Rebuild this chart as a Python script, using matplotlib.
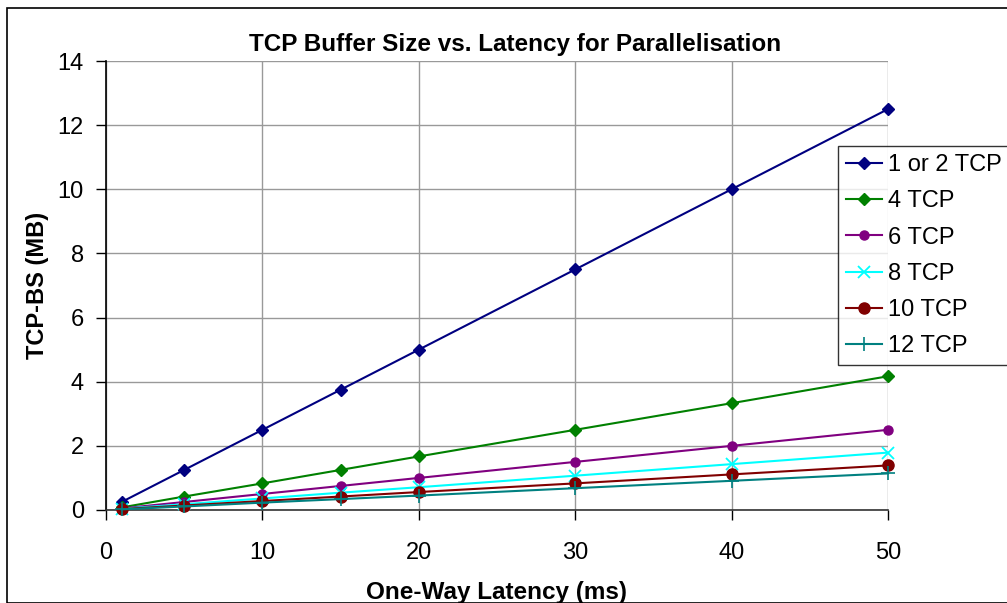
import matplotlib
matplotlib.use("Agg")
from matplotlib import pyplot as plt
from matplotlib.patches import Rectangle

plt.rcParams['font.family'] = ['Liberation Sans', 'DejaVu Sans']

# one-way latency (ms) and buffer size (MB) per number of parallel streams
latency = [1, 5, 10, 15, 20, 30, 40, 50]
tcp_1_2 = [0.25, 1.25, 2.5, 3.75, 5.0, 7.5, 10.0, 12.5]
tcp_4 = [0.08, 0.42, 0.83, 1.25, 1.67, 2.5, 3.33, 4.17]
tcp_6 = [0.05, 0.25, 0.5, 0.75, 1.0, 1.5, 2.0, 2.5]
tcp_8 = [0.04, 0.18, 0.36, 0.54, 0.71, 1.07, 1.43, 1.79]
tcp_10 = [0.03, 0.14, 0.28, 0.42, 0.56, 0.83, 1.11, 1.39]
tcp_12 = [0.02, 0.11, 0.23, 0.34, 0.45, 0.68, 0.91, 1.14]

series = [
    ("1 or 2 TCP", tcp_1_2, "#000080", "D", 6, 1.0),
    ("4 TCP", tcp_4, "#008000", "D", 6, 1.0),
    ("6 TCP", tcp_6, "#800080", "o", 6.5, 1.0),
    ("8 TCP", tcp_8, "#00FFFF", "x", 9, 1.3),
    ("10 TCP", tcp_10, "#800000", "o", 8, 1.0),
    ("12 TCP", tcp_12, "#008080", "+", 10, 1.2),
]

fig = plt.figure(figsize=(10.07, 6.03), dpi=100)
ax = fig.add_axes([106 / 1007, 1 - 510 / 603, (888 - 106) / 1007, (510 - 61) / 603])

for name, vals, col, mk, ms, mew in series:
    ax.plot(latency, vals, color=col, marker=mk, markersize=ms, markeredgewidth=mew,
            linewidth=1.5, label=name, clip_on=False, zorder=3)

ax.set_xlim(0, 50)
ax.set_ylim(0, 14)
ax.set_xticks(range(0, 51, 10))
ax.set_yticks(range(0, 15, 2))
ax.grid(True, color="#999999", linewidth=1)
ax.set_axisbelow(True)
for s in ["top", "right"]:
    ax.spines[s].set_visible(False)
ax.spines["left"].set_linewidth(1.2)
ax.spines["bottom"].set_linewidth(1.2)
ax.spines["bottom"].set_color("#333333")
ax.tick_params(axis="both", direction="out", length=7, width=1, labelsize=17)
ax.tick_params(axis="y", pad=9)
ax.tick_params(axis="x", pad=16)

ax.set_xlabel("One-Way Latency (ms)", fontsize=17.5, fontweight="bold", labelpad=12)
ax.set_ylabel("TCP-BS (MB)", fontsize=17, fontweight="bold", labelpad=6)
fig.text(515 / 1007, 1 - 45 / 603, "TCP Buffer Size vs. Latency for Parallelisation",
         ha="center", va="center", fontsize=17.5, fontweight="bold")

leg = fig.legend(loc="upper left", bbox_to_anchor=(838 / 1007, 1 - 146 / 603),
                 fontsize=17, frameon=True, fancybox=False, edgecolor="black",
                 borderpad=0.35, labelspacing=0.6, handlelength=1.5, handletextpad=0.25,
                 borderaxespad=0)
leg.get_frame().set_linewidth(1)

fig.patches.append(Rectangle((7 / 1007, 0), 1.0, 1 - 8 / 603, transform=fig.transFigure,
                             fill=False, edgecolor="black", linewidth=1.2))

fig.savefig("out.png", dpi=100)
